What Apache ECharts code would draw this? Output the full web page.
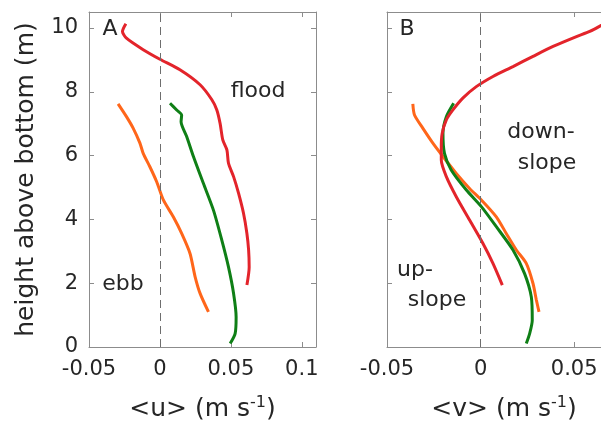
<!DOCTYPE html>
<html>
<head>
<meta charset="utf-8">
<script src="https://cdn.jsdelivr.net/npm/echarts@6/dist/echarts.min.js"></script>
<style>
html,body{margin:0;padding:0;background:#fff;}
#chart{width:601px;height:423px;}
</style>
</head>
<body>
<div id="chart"></div>
<script>
// ---- data (x = velocity m/s, y = height above bottom m) ----
const uFloodX = [-0.024,-0.0264,-0.0236,-0.0118,0,0.0141,0.0283,0.0366,0.0401,0.0424,0.0443,0.0472,0.0483,0.0519,0.0554,0.0589,0.0613,0.0625,0.0629,0.0613];
const uFloodY = [10.13,9.89,9.68,9.32,9.02,8.69,8.22,7.75,7.43,7.01,6.49,6.18,5.76,5.34,4.82,4.19,3.56,3.04,2.51,1.94];
const uMeanX = [0.0071,0.0118,0.0153,0.0149,0.0189,0.0236,0.0306,0.0377,0.0436,0.0483,0.0519,0.0537,0.0530,0.0495];
const uMeanY = [7.64,7.43,7.27,7.06,6.59,5.97,5.13,4.29,3.35,2.51,1.68,0.94,0.42,0.11];
const uEbbX = [-0.0295,-0.0236,-0.0189,-0.0141,-0.0118,-0.0071,-0.0023,0.0024,0.0094,0.0153,0.0212,0.0248,0.0283,0.0342];
const uEbbY = [7.62,7.22,6.86,6.39,6.07,5.65,5.18,4.61,4.08,3.56,2.93,2.20,1.68,1.10];

const vFloodX = [0.068,0.0583,0.0512,0.0387,0.0280,0.0173,0.0066,-0.0023,-0.0095,-0.0148,-0.0183,-0.0205,-0.0210,-0.0210,-0.0183,-0.0130,-0.0059,0.0012,0.0066,0.0116];
const vFloodY = [10.2,9.89,9.73,9.42,9.11,8.79,8.48,8.16,7.80,7.43,7.12,6.70,6.28,5.86,5.34,4.71,3.98,3.25,2.62,1.94];
const vMeanX = [-0.0144,-0.0183,-0.0201,-0.0193,-0.0157,-0.0076,0.0004,0.0084,0.0173,0.0235,0.0271,0.0276,0.0262,0.0244];
const vMeanY = [7.64,7.22,6.70,6.07,5.55,4.92,4.40,3.77,3.04,2.30,1.57,0.84,0.42,0.11];
const vEbbX = [-0.0362,-0.0353,-0.0309,-0.0255,-0.0201,-0.0130,-0.0059,0.0004,0.0084,0.0137,0.0191,0.0244,0.0280,0.0298,0.0312];
const vEbbY = [7.62,7.27,6.86,6.39,5.97,5.44,4.97,4.61,4.08,3.56,3.04,2.62,1.99,1.47,1.10];

const yTicks = [0,2,4,6,8,10];
const uTicks = [-0.05,0,0.05,0.1];
const vTicks = [-0.05,0,0.05];

// ---- styling ----
const FONT = 'DejaVu Sans';
const TXT = '#262626';
const AX = '#8c8c8c';
const RED = '#e3242b', GREEN = '#0f7f16', ORANGE = '#ff661a';

const zip = (xs, ys) => xs.map((x, i) => [x, ys[i]]);
const fmt = v => String(+v.toFixed(2));

function xAx(grid, min, max, ticks, name, showLabels, pos) {
  return {
    type: 'value', gridIndex: grid, min: min, max: max, interval: 0.05, position: pos,
    axisLine: {show: true, onZero: false, lineStyle: {color: AX, width: 1}},
    axisTick: {show: true, inside: true, length: 5, lineStyle: {color: AX}},
    splitLine: {show: false},
    axisLabel: {show: showLabels, fontFamily: FONT, fontSize: 21, color: TXT, margin: 12,
      showMaxLabel: ticks.includes(max), formatter: v => ticks.some(t => Math.abs(t - v) < 1e-9) ? fmt(v) : ''},
    name: name, nameLocation: 'middle', nameGap: 48,
    nameTextStyle: {fontFamily: FONT, fontSize: 25, color: TXT,
      rich: {sup: {fontFamily: FONT, fontSize: 16, color: TXT, verticalAlign: 'top', padding: [0, 0, 12, 0]}}}
  };
}
function yAx(grid, name, showLabels, pos) {
  return {
    type: 'value', gridIndex: grid, min: 0, max: 10.5, interval: 2, position: pos,
    axisLine: {show: true, onZero: false, lineStyle: {color: AX, width: 1}},
    axisTick: {show: true, inside: true, length: 5, lineStyle: {color: AX}},
    splitLine: {show: false},
    axisLabel: {show: showLabels, fontFamily: FONT, fontSize: 21, color: TXT, margin: 11,
      formatter: v => yTicks.includes(v) ? String(v) : ''},
    name: name, nameLocation: 'middle', nameGap: 50,
    nameTextStyle: {fontFamily: FONT, fontSize: 25, color: TXT}
  };
}
function line(xi, yi, data, color) {
  return {type: 'line', xAxisIndex: xi, yAxisIndex: yi, data: data, symbol: 'none',
    smooth: 0.25, clip: true, lineStyle: {color: color, width: 3}, z: 3};
}
const zeroMark = {symbol: 'none', silent: true, label: {show: false},
  lineStyle: {color: '#6e6e6e', width: 1, type: [8, 5]}, data: [{xAxis: 0}]};

const option = {
  animation: false,
  backgroundColor: '#fff',
  grid: [
    {left: 89, top: 12, width: 227, height: 335, outerBoundsMode: 'none', containLabel: false},
    {left: 387, top: 12, width: 234, height: 335, outerBoundsMode: 'none', containLabel: false}
  ],
  xAxis: [
    xAx(0, -0.05, 0.11, uTicks, '<u> (m s{sup|-1})', true, 'bottom'),
    xAx(1, -0.05, 0.075, vTicks, '<v> (m s{sup|-1})', true, 'bottom'),
    xAx(0, -0.05, 0.11, uTicks, '', false, 'top'),
    xAx(1, -0.05, 0.075, vTicks, '', false, 'top')
  ],
  yAxis: [
    yAx(0, 'height above bottom (m)', true, 'left'),
    yAx(1, '', false, 'left'),
    yAx(0, '', false, 'right'),
    yAx(1, '', false, 'right')
  ],
  series: [
    Object.assign(line(0, 0, zip(uEbbX, uEbbY), ORANGE), {markLine: zeroMark}),
    line(0, 0, zip(uMeanX, uMeanY), GREEN),
    line(0, 0, zip(uFloodX, uFloodY), RED),
    Object.assign(line(1, 1, zip(vEbbX, vEbbY), ORANGE), {markLine: zeroMark}),
    line(1, 1, zip(vMeanX, vMeanY), GREEN),
    line(1, 1, zip(vFloodX, vFloodY), RED)
  ],
  graphic: [
    ['A', 110, 29], ['flood', 258, 91], ['ebb', 123, 284],
    ['B', 407, 29], ['down-', 541, 132], ['slope', 547, 163],
    ['up-', 415, 270], ['slope', 437, 300]
  ].map(([t, x, y]) => ({type: 'text', x: x, y: y, z: 10,
    style: {text: t, fontFamily: FONT, fontSize: 22, fill: TXT, align: 'center', verticalAlign: 'middle'}}))
};

const chart = echarts.init(document.getElementById('chart'), null, {renderer: 'canvas'});
chart.setOption(option);
</script>
</body>
</html>
